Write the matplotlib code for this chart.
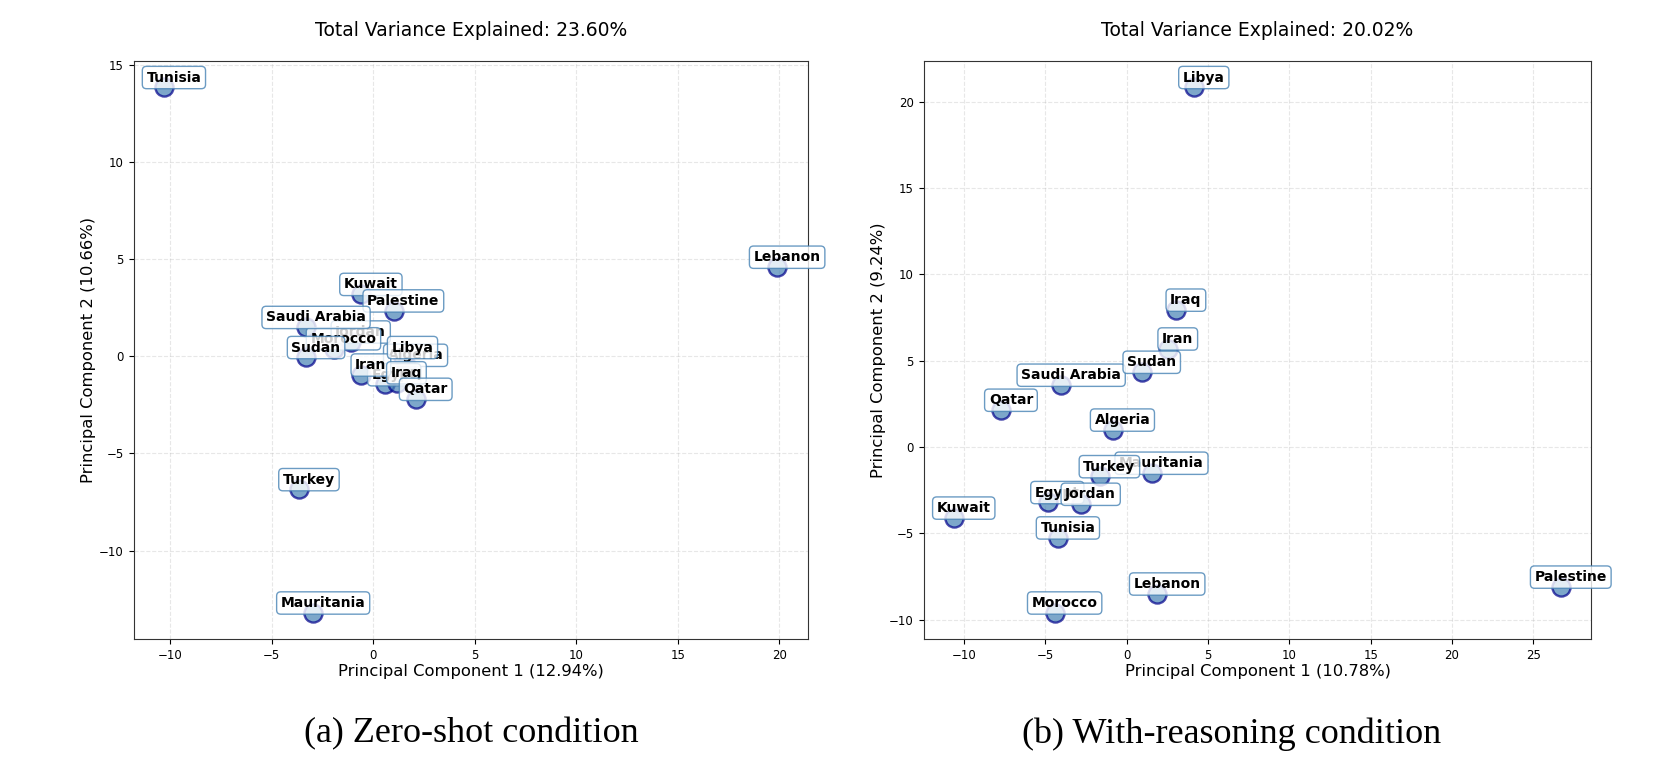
import matplotlib
matplotlib.use('Agg')
import matplotlib.pyplot as plt

countries = ['Algeria', 'Egypt', 'Iran', 'Iraq', 'Jordan', 'Kuwait', 'Lebanon', 'Libya',
             'Mauritania', 'Morocco', 'Palestine', 'Qatar', 'Saudi Arabia', 'Sudan',
             'Tunisia', 'Turkey']

# (a) zero-shot
pc1_zero = [1.6, 0.55, -0.6, 1.15, -1.1, -0.6, 19.9, 1.45,
            -2.95, -1.95, 1.0, 2.1, -3.3, -3.3, -10.3, -3.65]
pc2_zero = [-0.45, -1.45, -0.95, -1.35, 0.75, 3.2, 4.6, -0.05,
            -13.2, 0.4, 2.35, -2.2, 1.5, -0.05, 13.85, -6.85]

# (b) with reasoning
pc1_reason = [-0.85, -4.85, 2.55, 3.05, -2.8, -10.6, 1.9, 4.15,
              1.55, -4.4, 26.7, -7.7, -4.0, 0.95, -4.2, -1.65]
pc2_reason = [1.0, -3.2, 5.7, 7.95, -3.3, -4.1, -8.5, 20.85,
              -1.5, -9.6, -8.1, 2.15, 3.6, 4.35, -5.25, -1.7]

panels = [
    (pc1_zero, pc2_zero, 'Total Variance Explained: 23.60%',
     'Principal Component 1 (12.94%)', 'Principal Component 2 (10.66%)',
     '(a) Zero-shot condition'),
    (pc1_reason, pc2_reason, 'Total Variance Explained: 20.02%',
     'Principal Component 1 (10.78%)', 'Principal Component 2 (9.24%)',
     '(b) With-reasoning condition'),
]

fig = plt.figure(figsize=(16.61, 7.66), dpi=100)
axes_pos = [[0.0804, 0.1658, 0.4061, 0.7546],
            [0.5561, 0.1658, 0.4020, 0.7546]]
caption_x = [0.2835, 0.7417]

for i, (xs, ys, title, xlabel, ylabel, caption) in enumerate(panels):
    ax = fig.add_axes(axes_pos[i])
    ax.scatter(xs, ys, s=170, c='steelblue', edgecolors='darkblue',
               linewidths=1.7, alpha=0.7, zorder=2)
    for name, x, y in zip(countries, xs, ys):
        ax.annotate(name, (x, y), xytext=(7, 7), textcoords='offset points',
                    ha='center', va='center', fontsize=10, fontweight='bold',
                    bbox=dict(boxstyle='round,pad=0.3', fc='white', ec='steelblue',
                              alpha=0.8), zorder=3)
    ax.set_title(title, fontsize=13.5, pad=18)
    ax.set_xlabel(xlabel, fontsize=11.8, labelpad=2)
    ax.set_ylabel(ylabel, fontsize=11.8, labelpad=2)
    ax.tick_params(labelsize=8.5)
    ax.grid(True, linestyle='--', alpha=0.3)
    for sp in ax.spines.values():
        sp.set_color('#333333')
    fig.text(caption_x[i], 0.042, caption, ha='center', va='center',
             fontsize=26, family='Liberation Serif')

fig.savefig('out.png', dpi=100)
